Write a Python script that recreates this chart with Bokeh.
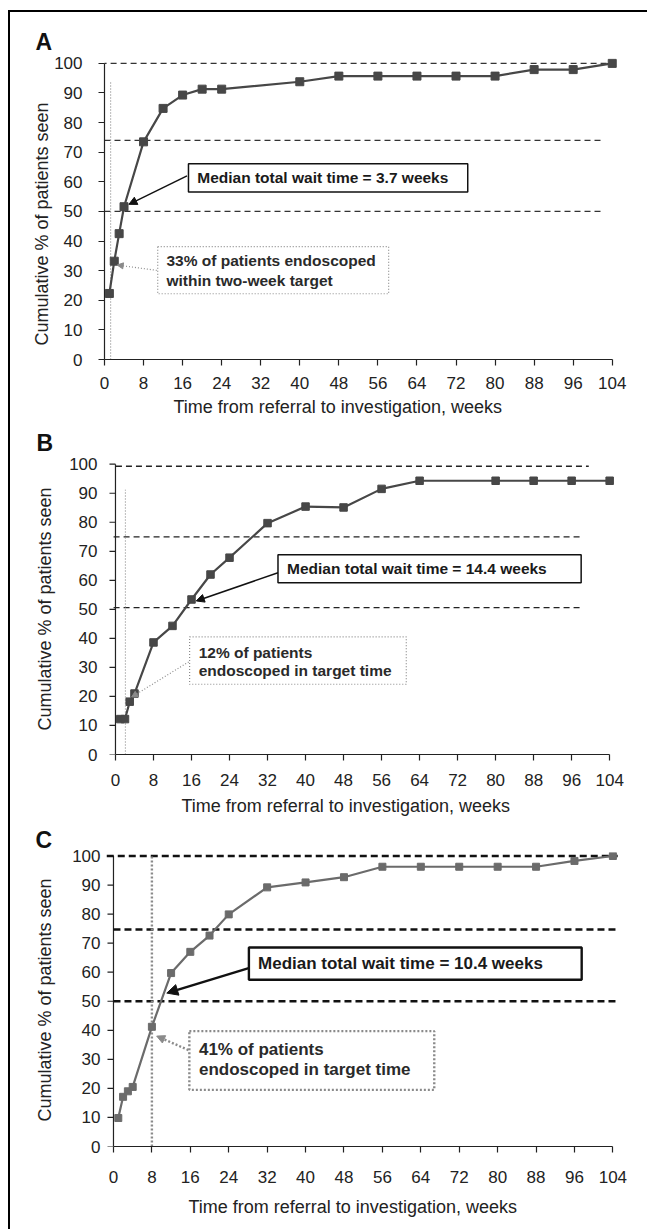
import math
from bokeh.plotting import figure
from bokeh.models import (FixedTicker, Label, Arrow, NormalHead, BoxAnnotation,
                          Range1d, Title)
from bokeh.layouts import column
from bokeh.embed import file_html
from bokeh.resources import INLINE

# ---------------- data ----------------
x_ticks = [0, 8, 16, 24, 32, 40, 48, 56, 64, 72, 80, 88, 96, 104]
y_ticks = [0, 10, 20, 30, 40, 50, 60, 70, 80, 90, 100]

A_weeks = [1, 2, 3, 4, 8, 12, 16, 20, 24, 40, 48, 56, 64, 72, 80, 88, 96, 104]
A_pct = [22.3, 33.2, 42.5, 51.6, 73.5, 84.8, 89.3, 91.3, 91.3, 93.8, 95.7, 95.7,
         95.7, 95.7, 95.7, 97.9, 97.9, 100]

B_weeks = [1, 2, 3, 4, 8, 12, 16, 20, 24, 32, 40, 48, 56, 64, 80, 88, 96, 104]
B_pct = [12.2, 12.2, 18.2, 21.0, 38.6, 44.3, 53.4, 62.0, 67.8, 79.7, 85.4, 85.1,
         91.5, 94.3, 94.3, 94.3, 94.3, 94.3]

C_weeks = [1, 2, 3, 4, 8, 12, 16, 20, 24, 32, 40, 48, 56, 64, 72, 80, 88, 96, 104]
C_pct = [9.8, 17.1, 19.0, 20.5, 41.2, 59.7, 67.0, 72.6, 79.9, 89.2, 90.9, 92.7,
         96.3, 96.3, 96.3, 96.3, 96.3, 98.3, 100]

A_ref = [100, 74, 50]
B_ref = [99.3, 75, 50.6]
C_ref = [100, 74.7, 50]

A_target_week = 1.25
B_target_week = 2.1
C_target_week = 8

A_median_text = "Median total wait time = 3.7 weeks"
B_median_text = "Median total wait time  = 14.4 weeks"
C_median_text = "Median total wait time  = 10.4 weeks"
A_note = ["33% of patients endoscoped", "within two-week target"]
B_note = ["12% of patients", "endoscoped in target time"]
C_note = ["41% of patients", "endoscoped in target time"]

Y_TITLE = "Cumulative % of patients seen"
X_TITLE = "Time from referral to investigation, weeks"

TEXT_FONT = "Liberation Sans"
AXIS_COLOR = "#222222"


def make_panel(cfg):
    p = figure(width=637, height=cfg["height"], output_backend="svg",
               toolbar_location=None, tools="",
               x_range=Range1d(*cfg["xr"]), y_range=Range1d(0, cfg["ytop"]),
               min_border_left=94, min_border_right=25,
               min_border_top=cfg["mbt"], min_border_bottom=cfg["mbb"])
    p.outline_line_color = None
    p.grid.visible = False
    p.background_fill_color = "white"
    p.border_fill_color = "white"

    for ax, ticks in ((p.xaxis[0], x_ticks), (p.yaxis[0], y_ticks)):
        ax.ticker = FixedTicker(ticks=ticks)
        ax.bounds = (ticks[0], ticks[-1])
        ax.axis_line_color = AXIS_COLOR
        ax.axis_line_width = 1.2
        ax.major_tick_line_color = AXIS_COLOR
        ax.major_tick_line_width = 1.2
        ax.major_tick_out = 6
        ax.major_tick_in = 0
        ax.minor_tick_line_color = None
        ax.major_label_text_font = TEXT_FONT
        ax.major_label_text_font_size = "17px"
        ax.major_label_text_color = AXIS_COLOR
    p.xaxis[0].major_label_standoff = cfg["xstand"]
    p.yaxis[0].major_label_standoff = cfg["ystand"]

    if cfg["xr"][0] < 0:
        # week 0 lies inside the frame: the axis keeps its labels at the frame
        # edge, its line and ticks are drawn at week 0
        yax = p.yaxis[0]
        yax.axis_line_color = None
        yax.major_tick_line_color = None
        yax.major_tick_out = 0
        p.segment(x0=[x_ticks[0]], x1=[x_ticks[0]], y0=[y_ticks[0]], y1=[y_ticks[-1]],
                  line_color=AXIS_COLOR, line_width=1.2)
        p.ray(x=[x_ticks[0]] * len(y_ticks), y=y_ticks, length=6, length_units="screen",
              angle=math.pi, line_color=AXIS_COLOR, line_width=1.2)

    # panel letter
    p.title.text = cfg["letter"]
    p.title.align = "left"
    p.title.offset = cfg["letter_off"]
    p.title.standoff = 0
    p.title.text_font = TEXT_FONT
    p.title.text_font_style = "bold"
    p.title.text_font_size = "23px"
    p.title.text_color = "#111111"

    # axis titles
    p.add_layout(Title(text=Y_TITLE, align="left", offset=cfg["yt_off"],
                       standoff=cfg["yt_stand"], vertical_align="bottom",
                       text_font=TEXT_FONT, text_font_style="normal",
                       text_font_size="18px", text_color=AXIS_COLOR), "left")
    p.add_layout(Title(text=X_TITLE, align="left", offset=cfg["xt_off"],
                       standoff=cfg["xt_stand"], vertical_align="top",
                       text_font=TEXT_FONT, text_font_style="normal",
                       text_font_size="18px", text_color=AXIS_COLOR), "below")

    # reference (dashed) lines
    p.segment(x0=cfg["ref_x0"], x1=cfg["ref_x1"], y0=cfg["ref"], y1=cfg["ref"],
              line_color=cfg["ref_color"], line_width=cfg["ref_width"],
              line_dash=cfg["ref_dash"])
    # target (dotted) vertical line
    p.segment(x0=[cfg["target"]], x1=[cfg["target"]], y0=[0], y1=[cfg["target_top"]],
              line_color="#8a8a8a", line_width=cfg["dot_width"], line_dash=cfg["dot_dash"])

    # series
    p.line(cfg["weeks"], cfg["pct"], line_color=cfg["color"], line_width=2.2)
    p.scatter(cfg["weeks"], cfg["pct"], marker="square", size=cfg["msize"],
              fill_color=cfg["color"], line_color=cfg["color"])

    # arrows
    mx0, my0, mx1, my1 = cfg["marrow"]
    p.add_layout(Arrow(x_start=mx0, y_start=my0, x_end=mx1, y_end=my1,
                       line_color="#111111", line_width=cfg["box_width"],
                       end=NormalHead(size=cfg["head"], fill_color="#111111",
                                      line_color="#111111", line_width=1)))
    dx0, dy0, dx1, dy1 = cfg["darrow"]
    p.add_layout(Arrow(x_start=dx0, y_start=dy0, x_end=dx1, y_end=dy1,
                       line_color="#8a8a8a", line_width=cfg["dot_width"],
                       line_dash=cfg["dot_dash"],
                       end=NormalHead(size=cfg["dhead"], fill_color="#8a8a8a",
                                      line_color="#8a8a8a", line_width=1)))

    # median box
    l, r, b, t = cfg["mbox"]
    p.add_layout(BoxAnnotation(left=l, right=r, bottom=b, top=t, fill_color="white",
                               fill_alpha=1, line_color="#111111",
                               line_width=cfg["box_width"], line_alpha=1))
    p.add_layout(Label(x=cfg["mtext"][0], y=cfg["mtext"][1], text=cfg["mlabel"],
                       text_font=TEXT_FONT, text_font_style="bold",
                       text_font_size=cfg["fs"], text_color="#1a1a1a",
                       text_align="left", text_baseline="middle"))
    # dotted note box
    l, r, b, t = cfg["nbox"]
    p.add_layout(BoxAnnotation(left=l, right=r, bottom=b, top=t, fill_color="white",
                               fill_alpha=1, line_color="#8a8a8a",
                               line_width=cfg["dot_width"], line_dash=cfg["dot_dash"],
                               line_alpha=1))
    for (tx, ty), txt in zip(cfg["ntext"], cfg["note"]):
        p.add_layout(Label(x=tx, y=ty, text=txt, text_font=TEXT_FONT,
                           text_font_style="bold", text_font_size=cfg["fs"],
                           text_color="#2a2a2a", text_align="left",
                           text_baseline="middle"))
    return p


pa = make_panel(dict(
    height=415, xr=(0, 106.1), ytop=103, mbt=42, mbb=68, xstand=11, ystand=16,
    letter="A", letter_off=-69, yt_off=14, yt_stand=0, xt_off=69, xt_stand=10,
    weeks=A_weeks, pct=A_pct, color="#474747", msize=8,
    ref=A_ref, ref_x0=[-0.8, 0, 0], ref_x1=[104.7, 102.3, 102.3],
    ref_color="#333333", ref_width=1.3, ref_dash="6 4",
    target=A_target_week, target_top=93.6, dot_width=1.2, dot_dash="1 2",
    marrow=(16.9, 62.0, 5.0, 52.4), head=8, box_width=1.5,
    darrow=(10.7, 30.1, 2.6, 31.9), dhead=6,
    mbox=(17.2, 74.4, 56.6, 66.1), mtext=(19.0, 61.3), mlabel=A_median_text, fs="15.5px",
    nbox=(10.9, 58.2, 22.2, 38.1), ntext=[(12.7, 33.3), (12.7, 26.7)], note=A_note,
))

pb = make_panel(dict(
    height=397, xr=(-2.31, 106.7), ytop=103, mbt=28, mbb=69, xstand=13, ystand=7,
    letter="B", letter_off=-68, yt_off=24, yt_stand=23, xt_off=77, xt_stand=14,
    weeks=B_weeks, pct=B_pct, color="#474747", msize=7.5,
    ref=B_ref, ref_x0=[0.1, -0.4, -0.4], ref_x1=[99.6, 98.4, 98.4],
    ref_color="#222222", ref_width=1.3, ref_dash="6 4",
    target=B_target_week, target_top=91.2, dot_width=1.2, dot_dash="1 2",
    marrow=(34.2, 62.6, 17.0, 52.9), head=8, box_width=1.5,
    darrow=(15.4, 31.9, 3.4, 19.8), dhead=6,
    mbox=(34.2, 98.0, 59.2, 68.8), mtext=(36.1, 64.1), mlabel=B_median_text, fs="15.5px",
    nbox=(15.6, 61.2, 24.2, 40.5), ntext=[(17.5, 35.3), (17.5, 29.0)], note=B_note,
))

pc = make_panel(dict(
    height=405, xr=(-1.87, 106.0), ytop=101.2, mbt=26, mbb=81, xstand=18, ystand=4,
    letter="C", letter_off=-69, yt_off=25, yt_stand=29, xt_off=84, xt_stand=22,
    weeks=C_weeks, pct=C_pct, color="#6b6b6b", msize=7,
    ref=C_ref, ref_x0=[-1.4, 0, 0], ref_x1=[105, 105.3, 105.3],
    ref_color="#111111", ref_width=2.6, ref_dash="7 4",
    target=C_target_week, target_top=100, dot_width=2.4, dot_dash="2 2",
    marrow=(28.5, 61.6, 11.1, 52.8), head=11, box_width=2.4,
    darrow=(15.6, 33.2, 9.0, 38.0), dhead=8,
    mbox=(28.2, 97.5, 57.4, 68.5), mtext=(30.1, 62.9), mlabel=C_median_text, fs="17px",
    nbox=(15.8, 66.8, 19.5, 39.7), ntext=[(17.8, 33.5), (17.8, 26.4)], note=C_note,
))

layout = column(pa, pb, pc, spacing=0,
                styles={"margin-left": "8px", "margin-top": "10px",
                        "border-left": "2px solid #000", "border-top": "2px solid #000"})

open("out.html", "w").write(file_html(layout, INLINE))
